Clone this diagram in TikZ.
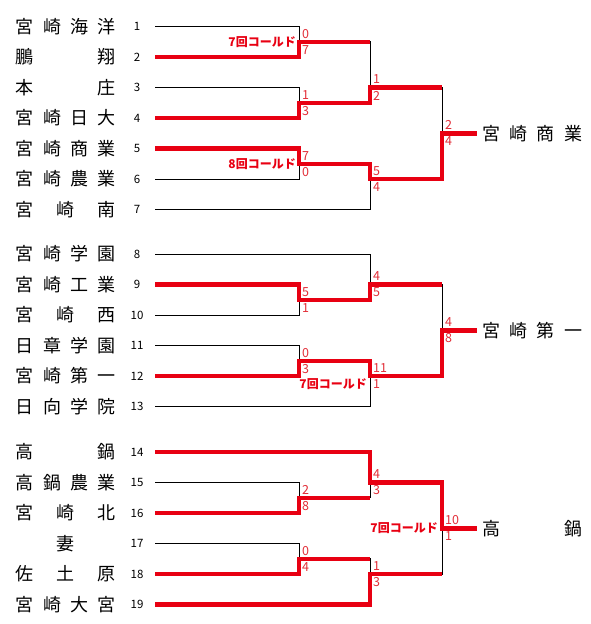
\documentclass[tikz,border=0pt]{standalone}
\usepackage{fontspec}
\setmainfont{Noto Sans CJK JP}
\definecolor{winred}{RGB}{232,0,18}
\definecolor{scorered}{RGB}{226,45,55}
\tikzset{
  team/.style={inner sep=0pt,font=\fontsize{18}{18}\selectfont},
  seed/.style={inner sep=0pt,font=\fontsize{11.5}{12}\selectfont},
  score/.style={inner sep=0pt,anchor=west,text=scorered,font=\fontsize{12.5}{12.5}\selectfont},
  cold/.style={inner sep=0pt,anchor=east,text=winred,font=\bfseries\fontsize{12}{12}\selectfont},
  lose/.style={line width=0.8pt,black},
  win/.style={line width=4.5pt,winred},
}
\begin{document}
\begin{tikzpicture}[x=1pt,y=-1pt]
  \useasboundingbox (0,0) rectangle (591,624);
  % teams, seeds and line starts
  \foreach \k/\y/\name in {1/26.5/宮\hfill 崎\hfill 海\hfill 洋,2/57/鵬\hfill 翔,
      3/87.5/本\hfill 庄,4/118/宮\hfill 崎\hfill 日\hfill 大,5/148.5/宮\hfill 崎\hfill 商\hfill 業,
      6/179/宮\hfill 崎\hfill 農\hfill 業,7/209.5/宮\hfill 崎\hfill 南,
      8/254/宮\hfill 崎\hfill 学\hfill 園,9/284.5/宮\hfill 崎\hfill 工\hfill 業,
      10/315/宮\hfill 崎\hfill 西,11/345.5/日\hfill 章\hfill 学\hfill 園,
      12/376/宮\hfill 崎\hfill 第\hfill 一,13/406.5/日\hfill 向\hfill 学\hfill 院,
      14/452/高\hfill 鍋,15/482.5/高\hfill 鍋\hfill 農\hfill 業,16/513/宮\hfill 崎\hfill 北,
      17/543.5/妻,18/574/佐\hfill 土\hfill 原,19/604.5/宮\hfill 崎\hfill 大\hfill 宮}{
    \node[team] (t\k) at (66,\y) {\makebox[100pt]{\name}};
    \node[seed] (n\k) at (137,\y) {\k};
    \coordinate (s\k) at (155,\y);}

  % match joins
  \coordinate (A) at (299,41.75);  \coordinate (B) at (299,102.75);
  \coordinate (C) at (299,163.75); \coordinate (D) at (370,87.5);
  \coordinate (E) at (370,179);    \coordinate (F) at (442,133.25);
  \coordinate (G) at (299,299.75); \coordinate (H) at (370,284.5);
  \coordinate (I) at (299,360.75); \coordinate (J) at (370,376);
  \coordinate (K) at (442,330.25);
  \coordinate (L) at (299,497.75); \coordinate (M) at (370,482.5);
  \coordinate (N) at (299,558.75); \coordinate (O) at (370,574);
  \coordinate (P) at (442,528.25);
  \coordinate (w1) at (477,133.25); \coordinate (w2) at (477,330.25);
  \coordinate (w3) at (477,528.25);

  \foreach \a/\j in {s1/A,s2/A,s3/B,s4/B,s5/C,s6/C,A/D,B/D,C/E,s7/E,D/F,E/F,
      s8/H,s9/G,s10/G,G/H,s11/I,s12/I,I/J,s13/J,H/K,J/K,
      s14/M,s15/L,s16/L,L/M,s17/N,s18/N,N/O,s19/O,M/P,O/P}
    \draw[lose] (\a) -| (\j);

  % winners
  \draw[win] (s2) -| (A) -- (A -| D);
  \draw[win] (s4) -| (B) -| (D) -- (D -| F);
  \draw[win] (s5) -| (C) -| (E) -| (F) -- (w1);
  \draw[win] (s9) -| (G) -| (H) -- (H -| K);
  \draw[win] (s12) -| (I) -| (J) -| (K) -- (w2);
  \draw[win] (s14) -| (M) -| (P) -- (w3);
  \draw[win] (s16) -| (L) -- (L -| M);
  \draw[win] (s18) -| (N) -- (N -| O);
  \draw[win] (s19) -| (O) -- (O -| P);

  \foreach \j/\u/\l in {A/0/7,B/1/3,C/7/0,D/1/2,E/5/4,F/2/4,G/5/1,H/4/5,I/0/3,
      J/11/1,K/4/8,L/2/8,M/4/3,N/0/4,O/1/3,P/10/1}{
    \node[score] (\j-u) at ([shift={(3,-8)}]\j) {\u};
    \node[score] (\j-l) at ([shift={(3,8)}]\j) {\l};}

  \node[cold] (coldA) at ([xshift=-3pt]A) {7回コールド};
  \node[cold] (coldC) at ([xshift=-3pt]C) {8回コールド};
  \node[cold] (coldJ) at ([shift={(-3,8)}]J) {7回コールド};
  \node[cold] (coldP) at ([xshift=-4pt]P) {7回コールド};

  \node[team,anchor=west] (champ1) at (482,133.25) {\makebox[100pt]{宮\hfill 崎\hfill 商\hfill 業}};
  \node[team,anchor=west] (champ2) at (482,330.25) {\makebox[100pt]{宮\hfill 崎\hfill 第\hfill 一}};
  \node[team,anchor=west] (champ3) at (482,528.25) {\makebox[100pt]{高\hfill 鍋}};
\end{tikzpicture}
\end{document}
